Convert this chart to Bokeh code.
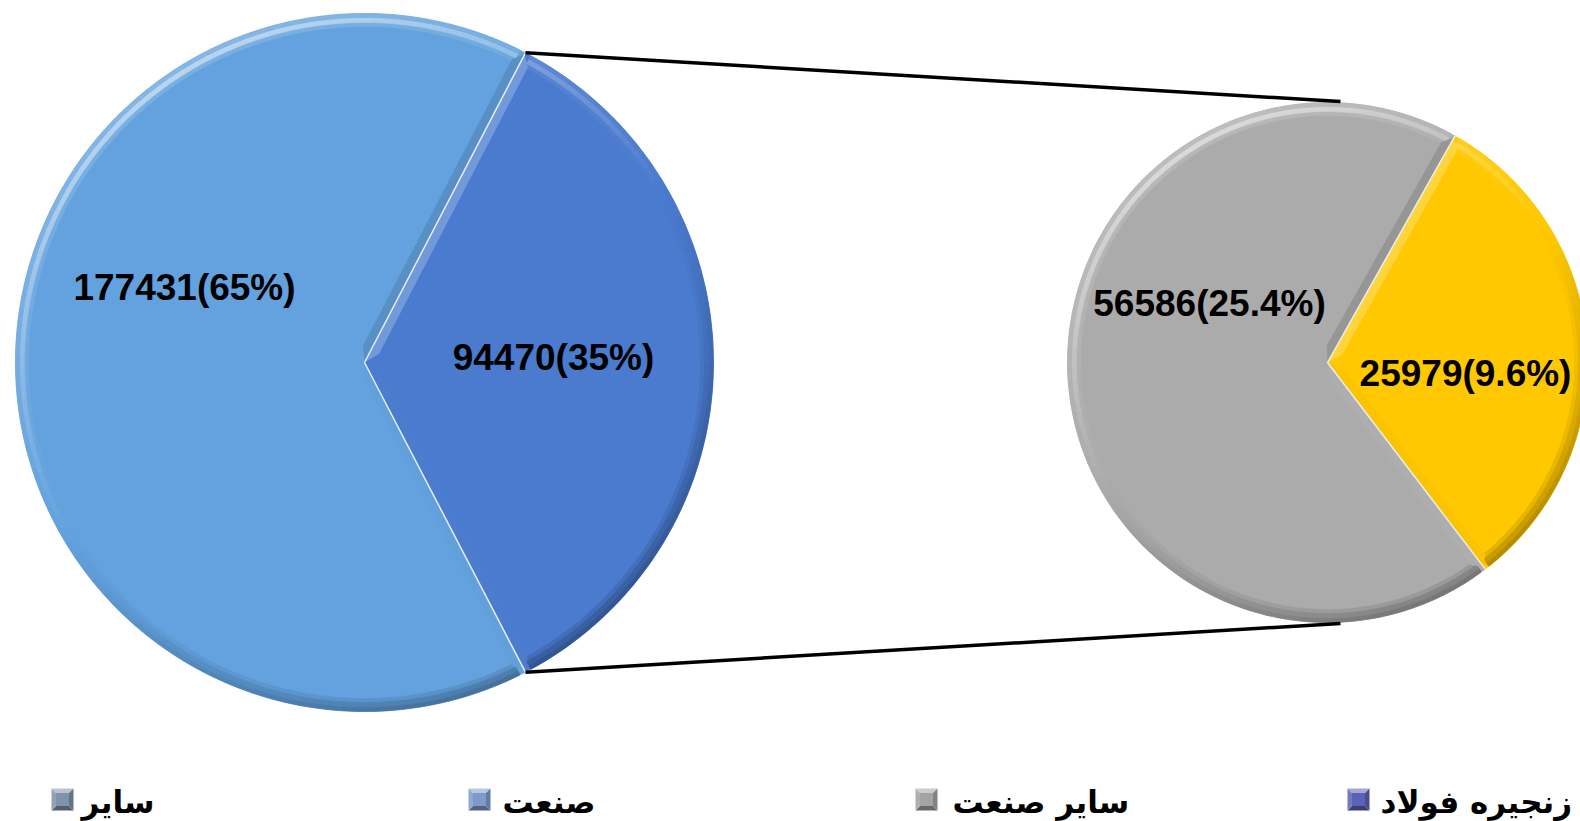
import numpy as np
from bokeh.plotting import figure
from bokeh.models import Range1d
from bokeh.embed import file_html
from bokeh.resources import INLINE
from bokeh.core.properties import value

# ---------------- data ----------------
outer_labels = ["سایر", "صنعت"]
outer_values = [177431, 94470]
outer_pct = ["65%", "35%"]
outer_colors = ["#63A2DE", "#4A7BCE"]

inner_labels = ["سایر صنعت", "زنجیره فولاد"]
inner_values = [56586, 25979]
inner_pct = ["25.4%", "9.6%"]
inner_colors = ["#ABABAB", "#FFC800"]

legend_labels = ["سایر", "صنعت", "سایر صنعت", "زنجیره فولاد"]
legend_colors = ["#7F93AA", "#7E9ACB", "#A3A3A3", "#5B62B5"]

# ---------------- layout (reference pixel space, y flipped) ----------------
W, H = 1580, 821
def Y(y):
    return H - y

C1 = (364, Y(362)); R1 = 349
C2 = (1327, Y(362)); R2 = 260
LIGHT = np.radians(120)

p = figure(width=W, height=H, x_range=Range1d(0, W), y_range=Range1d(0, H),
           output_backend="svg", toolbar_location=None, min_border=0,
           x_axis_location=None, y_axis_location=None)
p.grid.visible = False
p.outline_line_color = None
p.background_fill_color = "white"
p.border_fill_color = "white"


def hex2rgb(h):
    h = h.lstrip("#")
    return np.array([int(h[i:i + 2], 16) for i in (0, 2, 4)], float)


def shade(h, s):
    c = hex2rgb(h)
    if s >= 0:
        c = c + (255 - c) * s
    else:
        c = c * (1 + s)
    c = np.clip(c, 0, 255).astype(int)
    return "#%02x%02x%02x" % tuple(c)


def draw_slice(c, R, a0, a1, col):
    cx, cy = c
    p.wedge(x=cx, y=cy, radius=R, start_angle=a0, end_angle=a1,
            fill_color=col, line_color=col, line_width=0.5)
    # rim bevel (soft gradient, light from upper-left)
    inset = np.radians(1.0)
    n = max(6, int(np.degrees(a1 - a0) / 2.5))
    e = np.linspace(a0 + inset, a1 - inset, n + 1)
    mids = (e[:-1] + e[1:]) / 2
    s = np.cos(mids - LIGHT)
    bands = [(R - 13, R - 9, 0.15, 0.10), (R - 9, R - 4, 0.55, 0.22), (R - 4, R, 0.22, 0.30)]
    for r_in, r_out, kl, kd in bands:
        cols = [shade(col, kl * v if v > 0 else kd * v) for v in s]
        p.annular_wedge(x=cx, y=cy, inner_radius=r_in, outer_radius=r_out,
                        start_angle=e[:-1], end_angle=e[1:],
                        fill_color=cols, line_color=cols, line_width=0.6)
    # radial edge bevels
    w = 9
    xs, ys, cs = [], [], []
    for ang, sign in ((a0, 1), (a1, -1)):
        u = np.array([np.cos(ang), np.sin(ang)])
        nrm = np.array([np.cos(ang + sign * np.pi / 2), np.sin(ang + sign * np.pi / 2)])
        outward = -nrm
        sv = np.cos(np.arctan2(outward[1], outward[0]) - LIGHT)
        apex = np.array([cx, cy])
        p1 = apex + u * (R - 2)
        p2 = apex + u * (R - 12) + nrm * w
        p3 = apex + u * (w * 1.6) + nrm * w
        pts = [apex, p1, p2, p3]
        xs.append([q[0] for q in pts]); ys.append([q[1] for q in pts])
        cs.append(shade(col, 0.30 * sv if sv > 0 else 0.15 * sv))
    p.patches(xs=xs, ys=ys, fill_color=cs, line_color=None, fill_alpha=0.9)


def draw_pie(c, R, starts, ends, cols):
    for a0, a1, col in zip(starts, ends, cols):
        draw_slice(c, R, a0, a1, col)
    cx, cy = c
    p.segment(x0=[cx] * len(starts), y0=[cy] * len(starts),
              x1=[cx + R * np.cos(a) for a in starts], y1=[cy + R * np.sin(a) for a in starts],
              line_color="#E8EEF5", line_width=1.5)


# outer pie: second slice centred on the right
tot1 = sum(outer_values)
half1 = np.pi * outer_values[1] / tot1
o_starts = [half1, -half1]
o_ends = [2 * np.pi - half1, half1]
draw_pie(C1, R1, o_starts, o_ends, outer_colors)

# inner pie
tot2 = sum(inner_values)
half2 = np.pi * inner_values[1] / tot2
off = np.radians(4)
i_starts = [off + half2, off - half2]
i_ends = [off + 2 * np.pi - half2, off + half2]
draw_pie(C2, R2, i_starts, i_ends, inner_colors)

# connector lines
top_pt = (C1[0] + R1 * np.cos(half1), C1[1] + R1 * np.sin(half1))
bot_pt = (C1[0] + R1 * np.cos(-half1), C1[1] + R1 * np.sin(-half1))
p.line(x=[top_pt[0], C2[0] + 13], y=[top_pt[1], C2[1] + R2 + 1], line_color="black", line_width=3.5)
p.line(x=[bot_pt[0], C2[0] + 13], y=[bot_pt[1], C2[1] - R2 - 1], line_color="black", line_width=3.5)

# data labels
lab_text = [f"{v}({q})" for v, q in zip(outer_values + inner_values, outer_pct + inner_pct)]
lab_x = [184, 553, 1209, 1465]
lab_y = [Y(287), Y(357), Y(303), Y(373)]
p.text(x=lab_x, y=lab_y, text=lab_text, text_font=value("Liberation Sans"),
       text_font_style="bold", text_font_size="37px", text_align="center",
       text_baseline="middle", text_color="black")

# legend
mk_x = [62, 479, 926, 1358]
mk_y = Y(799)
ms = 22
for mx, col in zip(mk_x, legend_colors):
    x0, x1, y0, y1 = mx - ms / 2, mx + ms / 2, mk_y - ms / 2, mk_y + ms / 2
    tris_x = [[x0, x1, mx], [x0, x1, mx], [x0, x0, mx], [x1, x1, mx]]
    tris_y = [[y1, y1, mk_y], [y0, y0, mk_y], [y0, y1, mk_y], [y0, y1, mk_y]]
    tcols = [shade(col, 0.45), shade(col, -0.35), shade(col, 0.15), shade(col, -0.2)]
    p.patches(xs=tris_x, ys=tris_y, fill_color=tcols, line_color=None)
    p.rect(x=mx, y=mk_y, width=ms - 9, height=ms - 9, fill_color=col, line_color=None)

lg_x = [81, 502, 952, 1380]
p.text(x=lg_x, y=[Y(801)] * 4, text=legend_labels, text_font=value("DejaVu Sans"),
       text_font_style="bold", text_font_size="31px", text_align="left",
       text_baseline="alphabetic", text_color="black")

open("out.html", "w").write(file_html(p, INLINE))
